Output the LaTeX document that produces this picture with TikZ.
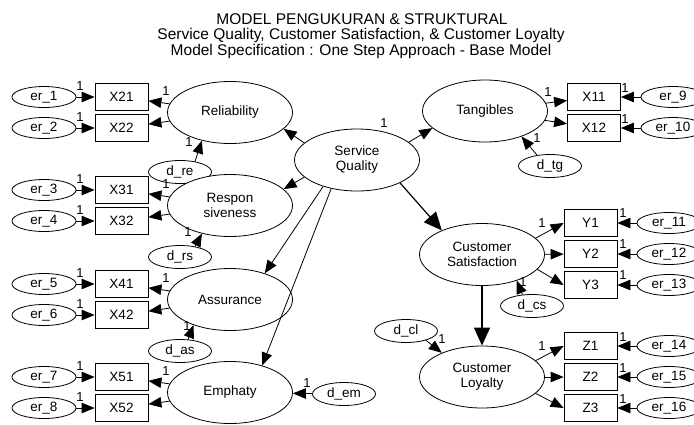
\documentclass[tikz,border=0pt]{standalone}
\usepackage{fontspec}
\setmainfont{Liberation Sans}
\usetikzlibrary{shapes.geometric,arrows.meta}
\begin{document}
\begin{tikzpicture}[x=1pt,y=-1pt,
  lat/.style={ellipse,draw,fill=white,line width=0.8pt,minimum width=125pt,minimum height=62pt,inner sep=0pt,align=center,font=\fontsize{13.5}{15}\selectfont},
  obs/.style={rectangle,draw,fill=white,line width=0.8pt,minimum width=53pt,minimum height=27pt,inner sep=0pt,font=\fontsize{13.5}{15}\selectfont},
  err/.style={ellipse,draw,fill=white,line width=0.8pt,minimum width=64pt,minimum height=21pt,inner sep=0pt,font=\fontsize{13.5}{15}\selectfont},
  dis/.style={ellipse,draw,fill=white,line width=0.8pt,minimum width=63pt,minimum height=23pt,inner sep=0pt,font=\fontsize{13.5}{15}\selectfont},
  arr/.style={line width=0.8pt,-{Triangle[length=13pt,width=10.5pt]}},
  bigarr/.style={line width=1.2pt,-{Triangle[length=18pt,width=16pt]}},
  one/.style={font=\fontsize{13}{13}\selectfont,inner sep=0pt},
  ttl/.style={font=\fontsize{15.5}{15.5}\selectfont,anchor=base,inner sep=0pt}
]
\useasboundingbox (0,0) rectangle (694,424);

% title
\node[ttl] (t1) at (362,24) {MODEL PENGUKURAN \& STRUKTURAL};
\node[ttl] (t2) at (361,39) {Service Quality, Customer Satisfaction, \& Customer Loyalty};
\node[ttl] (t3) at (361,55) {Model Specification : One Step Approach - Base Model};

% disturbance nodes (drawn first, latents overlap them)
\node[dis] (dre) at (180,172) {d\_re};
\node[dis] (drs) at (180,257) {d\_rs};
\node[dis] (das) at (180,351) {d\_as};
\node[dis] (dem) at (344,394) {d\_em};
\node[dis] (dtg) at (550,166) {d\_tg};
\node[dis] (dcs) at (532,306) {d\_cs};
\node[dis] (dcl) at (406,331) {d\_cl};

% left error terms
\node[err] (e1) at (44,97) {er\_1};
\node[err] (e2) at (44,128) {er\_2};
\node[err] (e3) at (44,190) {er\_3};
\node[err] (e4) at (44,221) {er\_4};
\node[err] (e5) at (44,284) {er\_5};
\node[err] (e6) at (44,315) {er\_6};
\node[err] (e7) at (44,377) {er\_7};
\node[err] (e8) at (44,408) {er\_8};

% left indicators
\node[obs] (x21) at (121.5,97) {X21};
\node[obs] (x22) at (121.5,128) {X22};
\node[obs] (x31) at (121.5,190) {X31};
\node[obs] (x32) at (121.5,221) {X32};
\node[obs] (x41) at (121.5,284) {X41};
\node[obs] (x42) at (121.5,315) {X42};
\node[obs] (x51) at (121.5,377) {X51};
\node[obs] (x52) at (121.5,408) {X52};

% left latents
\node[lat] (rel) at (230,112.5) {Reliability};
\node[lat] (rsp) at (230,205.5) {Respon\\siveness};
\node[lat] (asr) at (230,299.5) {Assurance};
\node[lat] (emp) at (230,392.5) {Emphaty};

% center
\node[lat] (sq) at (357,160) {Service\\Quality};

% right side
\node[lat] (tg) at (485,111) {Tangibles};
\node[obs] (x11) at (594,97) {X11};
\node[obs] (x12) at (594,128) {X12};
\node[err] (e9) at (673,97) {er\_9};
\node[err] (e10) at (673,128) {er\_10};

\node[lat] (cs) at (482,254.5) {Customer\\Satisfaction};
\node[obs] (y1) at (590.5,223) {Y1};
\node[obs] (y2) at (590.5,254) {Y2};
\node[obs] (y3) at (590.5,285) {Y3};
\node[err] (e11) at (669,223) {er\_11};
\node[err] (e12) at (669,254) {er\_12};
\node[err] (e13) at (669,285) {er\_13};

\node[lat] (cl) at (482,377) {Customer\\Loyalty};
\node[obs] (z1) at (590.5,346) {Z1};
\node[obs] (z2) at (590.5,377) {Z2};
\node[obs] (z3) at (590.5,408) {Z3};
\node[err] (e14) at (669,346) {er\_14};
\node[err] (e15) at (669,377) {er\_15};
\node[err] (e16) at (669,408) {er\_16};

% error -> indicator
\foreach \e/\x in {e1/x21,e2/x22,e3/x31,e4/x32,e5/x41,e6/x42,e7/x51,e8/x52,
                   e9/x11,e10/x12,e11/y1,e12/y2,e13/y3,e14/z1,e15/z2,e16/z3}
  \draw[arr] (\e) -- (\x);

% latent -> indicators
\foreach \l/\x in {rel/x21,rel/x22,rsp/x31,rsp/x32,asr/x41,asr/x42,emp/x51,emp/x52,tg/x11,tg/x12}
  \draw[arr] (\l) -- (\x);
\draw[arr] (cs.17) -- (y1.west);
\draw[arr] (cs) -- (y2);
\draw[arr] (cs.-15) -- (y3.west);
\draw[arr] (cl.17) -- (z1.west);
\draw[arr] (cl) -- (z2);
\draw[arr] (cl.-17) -- (z3.west);

% structural paths
\draw[arr] (sq.162) -- (rel.-17);
\draw[arr] (sq.198) -- (rsp.17);
\draw[arr] (sq.218) -- (asr.37);
\draw[arr] (sq.228) -- (emp.40);
\draw[arr] (sq.19) -- (tg.198);
\draw[bigarr] (sq.332) -- (cs.149);
\draw[bigarr] (cs) -- (cl);

% disturbances
\draw[arr] (dre.35) -- (rel.225);
\draw[arr] (drs.35) -- (rsp.225);
\draw[arr] (das.55) -- (asr.215);
\draw[arr] (dem) -- (emp);
\draw[arr] (dtg.140) -- (tg.-35);
\draw[arr] (dcs.130) -- (cs.-37);
\draw[arr] (dcl.-25) -- (cl.149);

% labels "1"
\foreach \n/\px/\py in {a1/80/86,a2/80/117,a3/80/179,a4/80/210,a5/80/273,a6/80/304,a7/80/366,a8/80/397,
  b1/166/91,b2/166/184,b3/166/278,b4/166/371,
  c1/189/142,c2/188/232,c3/187/326,c4/307/383,c5/384/123,
  r1/625/88,r2/625/119,r3/623/213,r4/623/244,r5/623/275,r6/623/337,r7/623/368,r8/623/399,
  s1/548/92,s2/542/223,s3/542/346,s4/537/138,s5/523/282,s6/442/339}
  \node[one] (\n) at (\px,\py) {1};
\end{tikzpicture}
\end{document}
